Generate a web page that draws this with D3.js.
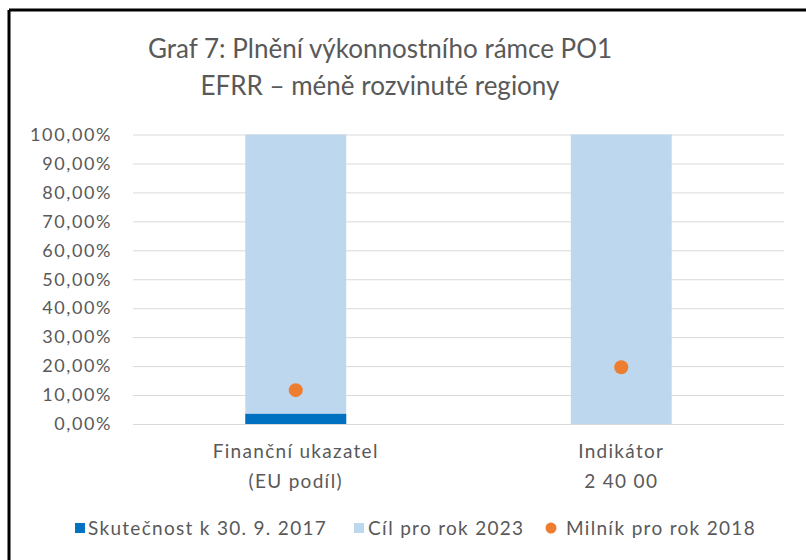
<!DOCTYPE html>
<html>
<head>
<meta charset="utf-8">
<script src="https://cdn.jsdelivr.net/npm/d3@7"></script>
<style>
  body { margin: 0; background: #fff; }
  text { font-family: Lato, "Open Sans", sans-serif; fill: #595959; }
</style>
</head>
<body>
<div id="chart"></div>
<script>
const categories = ["Finanční ukazatel|(EU podíl)", "Indikátor|2 40 00"];
const skutecnost = [3.5, 0];
const cil = [100, 100];
const milnik = [11.7, 19.6];
const yTicks = [0, 10, 20, 30, 40, 50, 60, 70, 80, 90, 100];
const titleLines = ["Graf 7: Plnění výkonnostního rámce PO1", "EFRR – méně rozvinuté regiony"];
const legendNames = ["Skutečnost k 30. 9. 2017", "Cíl pro rok 2023", "Milník pro rok 2018"];

const width = 806;
const height = 560;

const svg = d3.select("#chart").append("svg")
  .attr("width", width)
  .attr("height", height);

// frame (only top and left edges show in the crop)
svg.append("line").attr("x1", 9).attr("y1", 10).attr("x2", width).attr("y2", 10)
  .attr("stroke", "#000").attr("stroke-width", 3);
svg.append("line").attr("x1", 9).attr("y1", 10).attr("x2", 9).attr("y2", height)
  .attr("stroke", "#000").attr("stroke-width", 3);

let xScale = d3.scaleBand().domain(categories).range([133, 784]);
let yScale = d3.scaleLinear().domain([0, 100]).range([424, 134.5]);
const barW = xScale.bandwidth() * 0.31;

// title
svg.append("g").selectAll("text").data(titleLines).enter().append("text")
  .attr("x", 380)
  .attr("y", (d, i) => 58 + i * 37)
  .attr("text-anchor", "middle")
  .style("font-size", "26px")
  .text(d => d);

// gridlines + y labels
let yAxis = d3.axisLeft(yScale)
  .tickValues(yTicks)
  .tickSize(-(784 - 133))
  .tickPadding(21)
  .tickFormat(d => d3.format(".2f")(d).replace(".", ",") + "%");

let gy = svg.append("g").attr("transform", "translate(133,0)").call(yAxis);
gy.select(".domain").remove();
gy.selectAll(".tick line").attr("stroke", "#d9d9d9").attr("stroke-width", 1);
gy.selectAll(".tick text")
  .style("font-size", "18px")
  .style("letter-spacing", "1.6px")
  .style("font-family", "Lato, sans-serif")
  .attr("fill", "#595959");

// bars
svg.append("g").selectAll("rect").data(categories).enter().append("rect")
  .attr("x", d => xScale(d) + (xScale.bandwidth() - barW) / 2)
  .attr("y", (d, i) => yScale(cil[i]))
  .attr("width", barW)
  .attr("height", (d, i) => yScale(0) - yScale(cil[i]))
  .attr("fill", "#bdd7ee");

svg.append("g").selectAll("rect").data(categories).enter().append("rect")
  .attr("x", d => xScale(d) + (xScale.bandwidth() - barW) / 2)
  .attr("y", (d, i) => yScale(skutecnost[i]))
  .attr("width", barW)
  .attr("height", (d, i) => yScale(0) - yScale(skutecnost[i]))
  .attr("fill", "#0070c0");

svg.append("g").selectAll("circle").data(categories).enter().append("circle")
  .attr("cx", d => xScale(d) + xScale.bandwidth() / 2)
  .attr("cy", (d, i) => yScale(milnik[i]))
  .attr("r", 7)
  .attr("fill", "#ed7d31");

// x labels
let xl = svg.append("g").selectAll("text").data(categories).enter().append("text")
  .attr("x", d => xScale(d) + xScale.bandwidth() / 2)
  .attr("y", 458)
  .attr("text-anchor", "middle")
  .style("font-size", "19px")
  .style("letter-spacing", "1.3px");
xl.selectAll("tspan").data(d => d.split("|")).enter().append("tspan")
  .attr("x", function () { return this.parentNode.getAttribute("x"); })
  .attr("dy", (d, i) => i ? 30 : 0)
  .text(d => d);

// legend
const legendX = [75, 354, 546];
const legendTextX = [13, 14, 20];
const legendColors = ["#0070c0", "#bdd7ee", "#ed7d31"];
let lg = svg.append("g").selectAll("g").data(legendNames).enter().append("g")
  .attr("transform", (d, i) => "translate(" + legendX[i] + ",528)");
lg.each(function (d, i) {
  let g = d3.select(this);
  if (i == 2) {
    g.append("circle").attr("cx", 5).attr("cy", 0).attr("r", 5.5).attr("fill", legendColors[i]);
  } else {
    g.append("rect").attr("x", 0).attr("y", -5).attr("width", 10).attr("height", 10).attr("fill", legendColors[i]);
  }
  g.append("text").attr("x", legendTextX[i]).attr("y", 6.5)
    .style("font-size", "19px").style("letter-spacing", "1.3px").text(d);
});
</script>
</body>
</html>
